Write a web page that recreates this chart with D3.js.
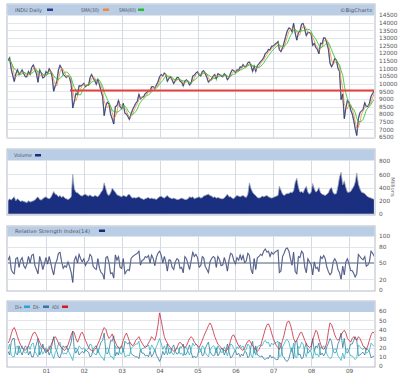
<!DOCTYPE html>
<html><head><meta charset="utf-8">
<script src="https://cdn.jsdelivr.net/npm/d3@7"></script>
<style>body{margin:0;background:#fff}svg{display:block}text{font-family:"DejaVu Sans",Verdana,sans-serif}</style>
</head><body><svg id="c" width="400" height="379"></svg>
<script>
// semi-monthly samples (1st & 16th of each month), Jan 2000 - Sep 2009
const startYear = 2000;
const price = [
11497,11700,10940,10520,10140,10630,10920,10580,10730,10900,10650,10450,10450,10800,10600,11060,11230,10930,10650,10090,10900,10700,10370,10430,
10787,10650,10980,10800,10450,9500,9880,10150,10900,11200,10990,10620,10500,10400,10510,10400,9950,8400,8850,9350,9260,9860,9850,9900,
10020,9800,9900,9900,10370,10600,10360,10200,9950,10280,9900,9500,9150,7900,8550,8780,8660,8000,7700,7350,8500,8550,8900,8500,
8340,8700,8050,8000,7850,7650,8000,8300,8500,8700,8850,9300,9000,9100,9150,9350,9420,9550,9480,9800,9800,9700,9900,10100,
10450,10600,10500,10700,10600,10150,10350,10450,10250,10000,10200,10400,10400,10150,10100,9850,10170,10250,10150,9900,10050,10500,10550,10700,
10780,10550,10500,10800,10850,10650,10400,10100,10200,10300,10500,10600,10300,10650,10600,10500,10450,10650,10550,10250,10400,10700,10900,10850,
10720,10900,10860,11100,11050,11250,11100,11150,11370,11420,11170,10800,11150,10800,11180,11300,11450,11550,11700,11980,12050,12250,12200,12450,
12460,12580,12650,12760,12230,12100,12350,12700,13100,13450,13650,13600,13400,13950,13300,12850,13350,13450,13900,13950,13550,13150,13370,13350,
13260,12500,12650,12350,12260,11950,12650,12600,13000,12990,12640,12250,11350,11100,11330,11650,11540,11000,10800,8950,9320,7700,8400,8900,
8780,8280,8000,7550,7060,6600,7700,8100,8200,8300,8750,8500,8500,8700,9170,9350,9550];
const volume = [
200,230,210,240,260,200,230,210,190,200,190,180,170,200,180,190,200,210,240,260,220,210,230,250,
260,240,230,250,290,340,300,290,260,280,250,270,240,230,220,230,260,600,380,330,320,300,280,270,
290,300,280,270,290,270,260,280,270,260,290,330,360,470,380,300,280,320,390,360,330,290,280,270,
260,280,270,260,290,300,260,240,250,240,250,260,240,230,220,230,240,250,230,240,230,230,220,240,
260,270,250,240,260,280,250,240,230,240,230,220,220,230,240,230,220,220,230,260,250,260,230,240,
250,260,240,250,270,280,290,300,280,270,250,260,240,250,240,230,230,240,270,300,260,260,240,230,
260,280,270,260,270,280,260,250,300,470,380,330,300,280,250,240,250,270,260,270,280,260,250,240,
250,260,270,280,420,360,300,280,300,310,310,330,320,350,480,540,400,330,340,320,380,420,330,300,
330,460,380,330,350,400,320,300,290,280,300,320,380,400,320,300,310,420,560,630,440,500,400,330,
330,340,380,420,480,620,450,380,330,320,310,280,260,250,240,230,220];
const rsi = [
55,62,38,32,30,58,60,42,55,60,45,40,48,62,50,64,66,45,38,30,62,52,38,48,
60,48,62,50,38,28,48,55,68,70,52,40,45,42,52,44,32,14,55,62,50,66,58,52,
58,45,52,55,66,62,44,40,38,58,40,32,30,20,60,62,50,30,32,22,65,55,62,42,
40,58,30,35,38,36,58,62,64,66,68,72,46,55,56,62,60,64,50,65,58,45,60,68,
72,65,50,62,52,35,56,55,42,38,52,58,56,40,42,32,62,58,48,38,55,70,62,66,
60,42,45,62,60,44,38,32,52,58,62,60,42,62,56,45,46,60,50,35,56,68,66,55,
48,60,55,65,56,64,50,54,68,64,38,30,58,38,60,62,66,64,72,76,70,72,62,70,
66,70,72,74,32,35,62,68,76,78,72,58,46,70,34,30,62,60,72,68,42,32,58,52,
48,28,52,40,42,34,62,58,64,58,42,34,28,32,52,58,52,38,32,20,44,28,52,58,
48,36,36,30,24,30,66,62,58,56,62,44,46,52,72,68,62];
const adx = [
25,28,35,40,42,38,32,27,23,20,18,17,19,22,27,32,36,37,34,30,26,22,20,18,
17,16,18,22,26,30,32,29,25,22,20,18,17,19,23,28,34,38,36,30,26,30,35,37,
33,28,24,20,18,17,16,18,20,24,28,33,38,42,40,34,30,32,35,30,26,22,20,19,
22,28,33,36,32,27,24,22,24,28,30,32,28,25,22,20,22,25,28,32,30,28,34,44,
58,50,40,32,28,25,22,20,18,16,17,20,24,26,24,22,20,22,26,30,32,30,26,24,
22,20,24,28,32,36,40,44,47,44,38,32,28,24,22,20,18,17,16,18,22,28,33,34,
30,26,22,20,18,17,20,24,27,28,25,22,20,18,16,18,22,28,34,40,45,46,42,36,
30,26,22,20,18,22,28,34,42,48,49,45,38,30,26,28,32,36,37,33,28,24,22,20,
22,28,34,39,37,30,24,20,18,20,26,38,47,45,40,34,30,28,30,34,37,39,36,30,
28,26,30,32,30,28,32,30,26,22,20,18,22,28,34,37,36];
const diPlus = [
18,24,12,10,10,20,22,14,18,22,16,14,15,22,18,24,25,16,13,10,22,18,13,16,
20,16,22,17,12,8,15,18,24,26,18,13,14,13,17,14,10,6,16,20,17,22,20,18,
20,16,18,19,24,23,15,13,12,19,13,10,9,6,18,20,16,10,10,7,22,19,21,14,
13,19,10,11,12,11,19,21,22,24,24,27,16,19,19,22,21,23,17,23,20,16,21,25,
30,25,18,22,18,12,19,19,14,12,17,20,19,13,14,11,21,20,16,12,18,25,22,24,
22,15,16,22,21,15,12,10,17,20,22,21,14,22,19,15,15,21,17,11,18,24,23,19,
16,21,19,23,20,22,17,18,24,22,12,9,19,12,21,22,23,22,26,28,25,26,21,25,
23,25,26,27,10,11,21,24,28,29,26,19,15,25,10,9,21,20,26,24,14,10,19,17,
15,8,17,12,13,10,21,19,22,19,13,10,8,9,17,19,17,11,9,6,14,8,17,19,
15,11,11,9,7,9,23,21,19,18,21,14,15,17,25,23,21];
const diMinus = [
16,12,26,30,30,14,12,22,16,12,18,22,20,12,16,10,10,18,24,30,12,16,24,18,
14,18,12,16,24,32,20,16,10,9,15,22,20,22,17,20,26,38,18,14,18,12,14,16,
14,18,16,15,10,11,18,21,22,14,21,26,28,36,15,13,18,28,27,33,11,15,12,20,
22,15,27,25,24,26,14,12,11,10,10,8,18,14,14,11,12,10,16,10,13,18,12,9,
5,9,16,12,16,24,14,14,20,23,16,13,14,21,20,24,12,13,18,23,15,9,11,9,
11,19,18,11,12,19,23,26,16,13,11,12,20,11,14,19,19,12,16,24,15,9,10,14,
17,12,14,10,13,11,16,15,9,11,22,27,14,22,12,11,10,11,8,7,9,8,12,9,
10,8,7,7,26,24,11,9,6,5,8,15,20,8,26,28,12,13,8,9,20,25,14,16,
18,30,16,22,20,25,12,14,11,14,21,25,30,27,16,14,16,24,28,36,20,30,16,14,
18,24,24,28,32,28,11,12,14,15,12,19,18,16,9,10,11];
const priceTicks = d3.range(6500, 14501, 500);
const volTicks = [0,200,400,600,800];
const rsiTicks = [0,20,50,80,100];
const dmiTicks = [0,10,20,30,40,50,60];
const refLevel = 9550;
const refStart = new Date(2001,7,20);

const dates = price.map((_, i) => new Date(startYear + Math.floor(i/24), Math.floor((i%24)/2), i%2 ? 16 : 1));
function sma(arr, n){ return arr.map((_, i) => d3.mean(arr.slice(Math.max(0, i-n+1), i+1))); }
const sma30 = sma(price, 3), sma60 = sma(price, 6);

const svg = d3.select("#c");
const L = 7, R = 375;
const x = d3.scaleTime().domain([new Date(1999,11,22), new Date(2009,8,8)]).range([L, R]);
const years = d3.timeYear.range(new Date(2001,0,1), new Date(2009,1,1));
const LF = "Liberation Sans, Arial, sans-serif";

function panel(id, top, hb, bottom, yDom, yRange, ticks, grid){
  const y = d3.scaleLinear().domain(yDom).range(yRange);
  const g = svg.append("g");
  g.append("rect").attr("x", L).attr("y", top).attr("width", R-L).attr("height", bottom-top)
    .attr("fill", "#fff").attr("stroke", "#b4bcc8").attr("stroke-width", 1);
  g.append("rect").attr("x", L+0.5).attr("y", top+0.5).attr("width", R-L-1).attr("height", hb-top)
    .attr("fill", "#b9cde4");
  g.selectAll(".hg").data(grid).enter().append("line")
    .attr("x1", L).attr("x2", R).attr("y1", d => Math.round(y(d))+0.5).attr("y2", d => Math.round(y(d))+0.5)
    .attr("stroke", "#e2e5ea").attr("stroke-width", 1);
  g.selectAll(".vg").data(years).enter().append("line")
    .attr("x1", d => Math.round(x(d))+0.5).attr("x2", d => Math.round(x(d))+0.5).attr("y1", hb+0.5).attr("y2", bottom)
    .attr("stroke", "#d6dae2").attr("stroke-width", 1);
  const ax = d3.axisRight(y).tickValues(ticks).tickSize(0).tickPadding(0).tickFormat(d3.format("d"));
  const a = svg.append("g").attr("transform", `translate(${R+4},0)`).call(ax);
  a.select(".domain").remove();
  a.selectAll("text").attr("font-size", "5.8px").attr("fill", "#555").attr("font-family", "DejaVu Sans, sans-serif");
  svg.append("clipPath").attr("id", id).append("rect").attr("x", L+1).attr("y", hb+1).attr("width", R-L-2).attr("height", bottom-hb-1.5);
  const body = svg.append("g").attr("clip-path", `url(#${id})`);
  return {y, body, g};
}
function legend(items, yy){
  items.forEach(it => {
    svg.append("text").attr("x", it.x).attr("y", yy+2).attr("font-size", "5px").attr("font-family", LF).attr("fill", "#556")
      .attr("textLength", it.w).attr("lengthAdjust", "spacingAndGlyphs").text(it.t);
    svg.append("rect").attr("x", it.sx).attr("y", yy-1).attr("width", 6).attr("height", 2.5).attr("fill", it.c);
  });
}

// Main price panel
const P = panel("cp", 4, 15, 138, [6500,14500], [137,15], priceTicks, priceTicks);
const line = yS => d3.line().x((d,i) => x(dates[i])).y(d => yS(d));
P.body.append("path").datum(price).attr("d", line(P.y)).attr("fill","none").attr("stroke","#9aa1b2").attr("stroke-width",1.4);
P.body.append("path").datum(price).attr("d", line(P.y)).attr("fill","none").attr("stroke","#1c2a6e").attr("stroke-width",0.7);
P.body.append("path").datum(sma30).attr("d", line(P.y)).attr("fill","none").attr("stroke","#f08a40").attr("stroke-width",0.8);
P.body.append("path").datum(sma60).attr("d", line(P.y)).attr("fill","none").attr("stroke","#22c02a").attr("stroke-width",0.8);
P.body.append("line").attr("x1", x(refStart)).attr("x2", R).attr("y1", P.y(refLevel)).attr("y2", P.y(refLevel))
  .attr("stroke", "#e8403a").attr("stroke-width", 2);
legend([{x:15,sx:47,w:27,t:"INDU Daily",c:"#2a3f8a"},{x:81,sx:103,w:18,t:"SMA(30)",c:"#f08a40"},{x:119,sx:138,w:17,t:"SMA(60)",c:"#22c02a"}], 9.5);
svg.append("text").attr("x", 340).attr("y", 11.5).attr("font-size","5px").attr("font-family", LF).attr("fill","#556")
  .attr("textLength", 32).attr("lengthAdjust", "spacingAndGlyphs").text("©BigCharts");

// Volume panel
const V = panel("cv", 149, 160, 215, [0,800], [214,161], volTicks, [200,400,600]);
V.body.append("path").datum(volume).attr("d", d3.area().x((d,i) => x(dates[i])).y0(V.y(0)).y1(d => V.y(d)))
  .attr("fill", "#1a2f80").attr("stroke", "#a4abbb").attr("stroke-width", 0.8);
legend([{x:14,sx:35,w:18,t:"Volume",c:"#1a2f80"}], 155);
svg.append("text").attr("transform","translate(391,187) rotate(90)").attr("text-anchor","middle")
  .attr("font-size","5.2px").attr("font-family", LF).attr("fill","#666").text("Millions");

// RSI panel
const S = panel("cr", 226, 236, 291, [0,100], [290,236], rsiTicks, [20,80]);
S.body.append("line").attr("x1", L).attr("x2", R).attr("y1", S.y(50)).attr("y2", S.y(50)).attr("stroke","#4a5c78").attr("stroke-width",1);
S.body.append("path").datum(rsi).attr("d", line(S.y)).attr("fill","none").attr("stroke","#9aa1b2").attr("stroke-width",1.2);
S.body.append("path").datum(rsi).attr("d", line(S.y)).attr("fill","none").attr("stroke","#1c2a6e").attr("stroke-width",0.5);
legend([{x:15,sx:99,w:75,t:"Relative Strength Index(14)",c:"#1c2a6e"}], 230.5);

// DMI panel
const D = panel("cd", 301, 311.5, 367, [0,60], [366,311], dmiTicks, [10,20,30,40,50]);
D.body.append("path").datum(diMinus).attr("d", line(D.y)).attr("fill","none").attr("stroke","#2f7a9c").attr("stroke-width",0.8);
D.body.append("path").datum(diPlus).attr("d", line(D.y)).attr("fill","none").attr("stroke","#35b4c4").attr("stroke-width",0.8);
D.body.append("path").datum(adx).attr("d", line(D.y)).attr("fill","none").attr("stroke","#c8283a").attr("stroke-width",0.8);
legend([{x:15,sx:24,w:7,t:"DI+",c:"#2aa4d0"},{x:33,sx:43,w:7,t:"DI-",c:"#3a74a4"},{x:52,sx:62,w:7,t:"ADX",c:"#d81820"}], 306.5);

// Year axis
const xa = svg.append("g").attr("transform","translate(0,367)")
  .call(d3.axisBottom(x).tickValues(years).tickSize(0).tickPadding(2).tickFormat(d3.timeFormat("%y")));
xa.select(".domain").remove();
xa.selectAll("text").attr("font-size","5.8px").attr("fill","#555").attr("font-family","DejaVu Sans, sans-serif");
</script></body></html>
